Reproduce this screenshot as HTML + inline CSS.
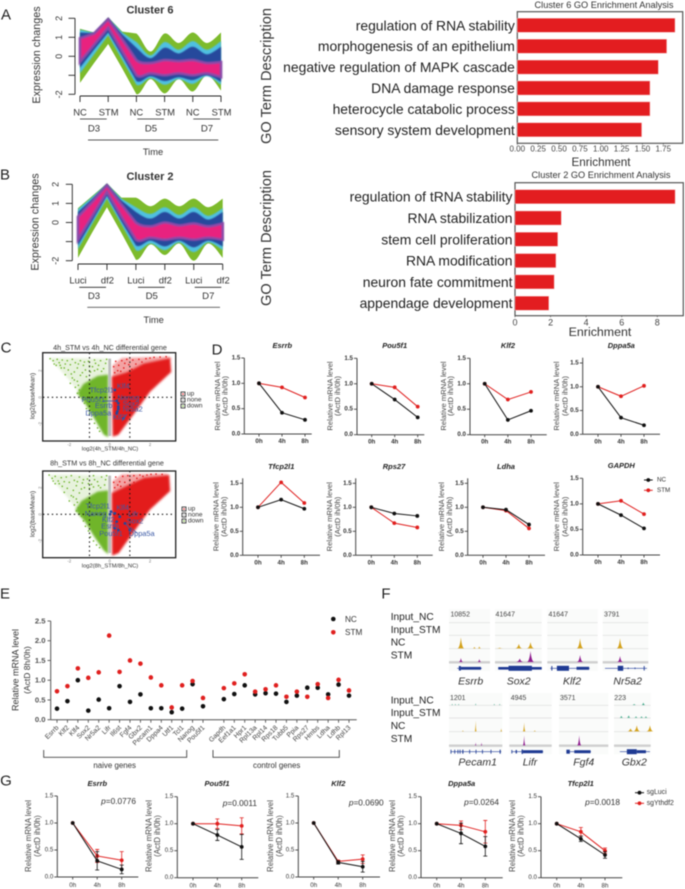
<!DOCTYPE html>
<html lang="en">
<head>
<meta charset="utf-8">
<title>Multi-panel figure</title>
<style>
html,body{margin:0;padding:0;background:#fff}
svg{display:block;filter:blur(.4px)}
text{font-family:"Liberation Sans",sans-serif;dominant-baseline:central;fill:#333}
.letter{font-size:15px;text-anchor:middle;fill:#222}
.rot{text-anchor:middle}
.m{text-anchor:middle}
.vg{font-size:7.4px;text-anchor:middle;fill:#3c5aa6}
.track{font-size:10.2px;fill:#222}
.gene{font-size:10.5px;font-style:italic;text-anchor:middle;fill:#333}
.num{font-size:7px;fill:#444}
.lt{font-size:7.5px;font-weight:bold;font-style:italic;text-anchor:middle;fill:#222}
.pv{font-size:8.3px;text-anchor:end;fill:#333}
</style>
</head>
<body>
<svg id="figure" width="685" height="889" viewBox="0 0 685 889">
<defs>
<filter id="soft"><feGaussianBlur stdDeviation="1.1"/></filter>
<filter id="softer"><feGaussianBlur stdDeviation=".55"/></filter>
</defs>
<rect x="0" y="0" width="685" height="889" fill="#fff"/>

<text class="letter" x="6" y="15">A</text>
<text class="letter" x="5" y="175">B</text>
<text class="letter" x="6" y="348">C</text>
<text class="letter" x="217" y="350">D</text>
<text class="letter" x="5" y="594">E</text>
<text class="letter" x="386" y="594">F</text>
<text class="letter" x="6" y="781">G</text>

<!-- Panel A left -->
<g id="ribbonA"></g>
<text class="m" x="150" y="10.5" font-size="11" font-weight="bold">Cluster 6</text>
<text class="rot" transform="rotate(-90 37 55)" x="37" y="55" font-size="10.8">Expression changes</text>
<g stroke="#222" stroke-width=".8">
<line x1="80" y1="119" x2="106.700" y2="119"/>
<line x1="137.300" y1="119" x2="164" y2="119"/>
<line x1="193.300" y1="119" x2="220" y2="119"/>
<line x1="88" y1="140" x2="218.300" y2="140"/>
</g>
<text class="m" x="94" y="129" font-size="9.6">D3</text>
<text class="m" x="151" y="129" font-size="9.6">D5</text>
<text class="m" x="207" y="129" font-size="9.6">D7</text>
<text class="m" x="153" y="152" font-size="9.3">Time</text>

<!-- Panel A right -->
<text class="rot" transform="rotate(-90 267 76)" x="267" y="76" font-size="14.6">GO Term Description</text>
<text class="m" x="604" y="5" font-size="9.2">Cluster 6 GO Enrichment Analysis</text>
<text class="m" x="601" y="162.500" font-size="11.7">Enrichment</text>
<g id="goA"></g>

<!-- Panel B left -->
<g id="ribbonB"></g>
<text class="m" x="150" y="177" font-size="11" font-weight="bold">Cluster 2</text>
<text class="rot" transform="rotate(-90 35.500 222)" x="35.500" y="222" font-size="10.8">Expression changes</text>
<g stroke="#222" stroke-width=".8">
<line x1="79.300" y1="287.300" x2="106" y2="287.300"/>
<line x1="138" y1="287.300" x2="164.700" y2="287.300"/>
<line x1="194.700" y1="287.300" x2="221.300" y2="287.300"/>
<line x1="87.300" y1="307.300" x2="220" y2="307.300" stroke="#555"/>
</g>
<text class="m" x="94" y="296.500" font-size="9.6">D3</text>
<text class="m" x="151.700" y="296.500" font-size="9.6">D5</text>
<text class="m" x="208.300" y="296.500" font-size="9.6">D7</text>
<text class="m" x="153.700" y="320" font-size="9.3">Time</text>

<!-- Panel B right -->
<text class="rot" transform="rotate(-90 267 238)" x="267" y="238" font-size="14.6">GO Term Description</text>
<text class="m" x="601" y="175" font-size="9.2">Cluster 2 GO Enrichment Analysis</text>
<text class="m" x="600" y="332" font-size="12.4">Enrichment</text>
<g id="goB"></g>

<!-- Panel C -->
<g id="volcano1"></g>
<g id="volcano2"></g>
<text class="m" x="110" y="347.700" font-size="7.2">4h_STM vs 4h_NC differential gene</text>
<text class="m" x="110" y="449.700" font-size="5.8">log2(4h_STM/4h_NC)</text>
<text class="rot" transform="rotate(-90 33 396)" x="33" y="396" font-size="6.4">log2(baseMean)</text>
<text class="m" x="107" y="463" font-size="7.2">8h_STM vs 8h_NC differential gene</text>
<text class="m" x="110" y="566.700" font-size="5.8">log2(8h_STM/8h_NC)</text>
<text class="rot" transform="rotate(-90 33 514)" x="33" y="514" font-size="6.4">log2(baseMean)</text>

<g stroke="#3c5aa6" stroke-width=".8">
<line x1="103" y1="401" x2="116" y2="401"/>
<line x1="113" y1="390" x2="115" y2="389"/>
<line x1="122" y1="421" x2="127" y2="414"/>
</g>
<text class="vg" x="101.700" y="390">Tfcp2l1</text>
<text class="vg" x="123.300" y="386">Klf4</text>
<text class="vg" x="93.300" y="399.300">Pou5f1</text>
<text class="vg" x="128.300" y="397.700">Nanog</text>
<text class="vg" x="103.700" y="405.300">Esrrb</text>
<text class="vg" x="131" y="403.300">Sox2</text>
<text class="vg" x="132.700" y="409">Nr5a2</text>
<text class="vg" x="98.300" y="413">Dppa5a</text>
<text class="vg" x="119.300" y="417">Klf2</text>

<g stroke="#3c5aa6" stroke-width=".8">
<line x1="111" y1="511" x2="114" y2="514"/>
<line x1="126" y1="524" x2="131" y2="531"/>
<line x1="130" y1="527" x2="137" y2="533"/>
</g>
<text class="vg" x="97.700" y="506">Tfcp2l1</text>
<text class="vg" x="122.700" y="507.700">Klf4</text>
<text class="vg" x="95.700" y="513.700">Nanog</text>
<text class="vg" x="133.300" y="514">Lifr</text>
<text class="vg" x="108.300" y="519.300">Klf2</text>
<text class="vg" x="110" y="526">Esrrb</text>
<text class="vg" x="135" y="521">Sox2</text>
<text class="vg" x="111" y="533.700">Pou5f1</text>
<text class="vg" x="141.700" y="533.700">Dppa5a</text>

<g>
<rect x="181" y="392" width="4" height="4" fill="#fff" stroke="#222" stroke-width=".8"/><circle cx="183" cy="394" r=".8" fill="#e31a1c"/>
<rect x="181" y="398" width="4" height="4" fill="#fff" stroke="#222" stroke-width=".8"/><circle cx="183" cy="400" r=".8" fill="#aaa"/>
<rect x="181" y="404" width="4" height="4" fill="#fff" stroke="#222" stroke-width=".8"/><circle cx="183" cy="406" r=".8" fill="#6fb52c"/>
<text x="187" y="394" font-size="6.500">up</text>
<text x="187" y="400" font-size="6.500">none</text>
<text x="187" y="406" font-size="6.500">down</text>
</g>
<g>
<rect x="182" y="507" width="4" height="4" fill="#fff" stroke="#222" stroke-width=".8"/><circle cx="184" cy="509" r=".8" fill="#e31a1c"/>
<rect x="182" y="513" width="4" height="4" fill="#fff" stroke="#222" stroke-width=".8"/><circle cx="184" cy="515" r=".8" fill="#aaa"/>
<rect x="182" y="519" width="4" height="4" fill="#fff" stroke="#222" stroke-width=".8"/><circle cx="184" cy="521" r=".8" fill="#6fb52c"/>
<text x="188" y="509" font-size="6.500">up</text>
<text x="188" y="515" font-size="6.500">none</text>
<text x="188" y="521" font-size="6.500">down</text>
</g>

<!-- Panel D -->
<g id="panelD"></g>
<text class="lt" x="282.300" y="345.700">Esrrb</text>
<text class="lt" x="394.700" y="345.700">Pou5f1</text>
<text class="lt" x="508" y="345.700">Klf2</text>
<text class="lt" x="621.300" y="345.700">Dppa5a</text>
<text class="lt" x="281.300" y="466.300">Tfcp2l1</text>
<text class="lt" x="394" y="466.300">Rps27</text>
<text class="lt" x="506" y="466.300">Ldha</text>
<text class="lt" x="621.300" y="465.700">GAPDH</text>
<g>
<line x1="644" y1="480" x2="652.700" y2="480" stroke="#111" stroke-width="1"/>
<circle cx="648.300" cy="480" r="1.900" fill="#111"/>
<text x="657" y="480" font-size="6.300">NC</text>
<line x1="644" y1="490.300" x2="652.700" y2="490.300" stroke="#e0201f" stroke-width="1"/>
<circle cx="648.300" cy="490.300" r="1.900" fill="#e0201f"/>
<text x="657" y="490.300" font-size="6.300">STM</text>
</g>

<!-- Panel E -->
<g id="panelE"></g>
<text class="rot" transform="rotate(-90 15.700 670)" x="15.700" y="670" font-size="9" fill="#444">Relative mRNA level</text>
<text class="rot" transform="rotate(-90 27 670)" x="27" y="670" font-size="8.500" fill="#444">(ActD 8h/0h)</text>
<g>
<circle cx="333.300" cy="619" r="2.300" fill="#111"/>
<text x="345" y="619.300" font-size="8.200">NC</text>
<circle cx="333.300" cy="632.300" r="2.300" fill="#e0201f"/>
<text x="345" y="632.700" font-size="8.200">STM</text>
</g>
<path d="M43.700 750V757.300H186.700V750" fill="none" stroke="#444" stroke-width=".9"/>
<path d="M213 750V757.300H339.300V750" fill="none" stroke="#444" stroke-width=".9"/>
<text class="m" x="114.700" y="765.700" font-size="7.900">naive genes</text>
<text class="m" x="276.700" y="765.700" font-size="7.900">control genes</text>

<!-- Panel F -->
<g id="panelF"></g>
<text class="track" x="390.700" y="617.700">Input_NC</text>
<text class="track" x="390.700" y="630.300">Input_STM</text>
<text class="track" x="390.700" y="643">NC</text>
<text class="track" x="390.700" y="656">STM</text>
<text class="track" x="390.700" y="701">Input_NC</text>
<text class="track" x="390.700" y="713.700">Input_STM</text>
<text class="track" x="390.700" y="726.700">NC</text>
<text class="track" x="390.700" y="739.700">STM</text>
<text class="gene" x="470.700" y="681.700">Esrrb</text>
<text class="gene" x="518.700" y="681.700">Sox2</text>
<text class="gene" x="572" y="681.700">Klf2</text>
<text class="gene" x="627.700" y="681.700">Nr5a2</text>
<text class="gene" x="477.700" y="762.300">Pecam1</text>
<text class="gene" x="530" y="762.300">Lifr</text>
<text class="gene" x="583.700" y="762.300">Fgf4</text>
<text class="gene" x="634.300" y="762.300">Gbx2</text>
<text class="num" x="450.500" y="615">10852</text>
<text class="num" x="495.500" y="615">41647</text>
<text class="num" x="548.500" y="615">41647</text>
<text class="num" x="604" y="615">3791</text>
<text class="num" x="450" y="698.300">1201</text>
<text class="num" x="510.700" y="698.300">4945</text>
<text class="num" x="560" y="698.300">3571</text>
<text class="num" x="614.300" y="698.300">223</text>

<!-- Panel G -->
<g id="panelG"></g>
<text class="lt" x="97.300" y="783.300">Esrrb</text>
<text class="lt" x="217" y="783.700">Pou5f1</text>
<text class="lt" x="338.300" y="783.300">Klf2</text>
<text class="lt" x="461.700" y="783.700">Dppa5a</text>
<text class="lt" x="580.700" y="783.700">Tfcp2l1</text>
<text class="pv" x="136" y="801"><tspan font-style="italic">p</tspan>=0.0776</text>
<text class="pv" x="257" y="803"><tspan font-style="italic">p</tspan>=0.0011</text>
<text class="pv" x="383.700" y="802.700"><tspan font-style="italic">p</tspan>=0.0690</text>
<text class="pv" x="499" y="802"><tspan font-style="italic">p</tspan>=0.0264</text>
<text class="pv" x="620" y="802"><tspan font-style="italic">p</tspan>=0.0018</text>
<g>
<line x1="635" y1="792.700" x2="644" y2="792.700" stroke="#111" stroke-width="1"/>
<circle cx="639.500" cy="792.700" r="1.900" fill="#111"/>
<text x="646.700" y="792.700" font-size="6.900">sgLuci</text>
<line x1="635" y1="803.300" x2="644" y2="803.300" stroke="#e0201f" stroke-width="1"/>
<circle cx="639.500" cy="803.300" r="1.900" fill="#e0201f"/>
<text x="646.700" y="803.300" font-size="6.900">sgYthdf2</text>
</g>
</svg>

<script>
/* ---------- DATA: ribbons (expression level edges at each time index) ---------- */
const ribbonIndex = [0, .5, 1, 1.5, 2, 2.5, 3, 3.5, 4, 4.5, 5];
const ribbonTickValues = [2, 1, 0, -1, -2];
const ribbonTickLabels = ['2', '1', '0', '', '-2'];
const ribbonAConditions = ['NC', 'STM', 'NC', 'STM', 'NC', 'STM'];
const ribbonBConditions = ['Luci', 'df2', 'Luci', 'df2', 'Luci', 'df2'];

const c6GreenTop = [1.45, 1.25, 2.05, 1.3, 1.2, .25, 1.2, .7, 1.25, .7, 1.25];
const c6CyanTop = [1.4, 1.24, 2.03, 1.25, .75, .05, .75, .35, .8, .35, .8];
const c6BlueTop = [1.25, 1.22, 2.0, 1.15, .45, -.1, .45, .15, .5, .1, .5];
const c6PinkTop = [.95, 1.2, 1.95, .9, -.2, -.35, -.2, -.25, -.2, -.35, -.3];
const c6PinkBottom = [-.3, .6, 1.5, .25, -1, -.9, -1, -.9, -1, -.9, -1.1];
const c6BlueBottom = [-.6, .35, 1.25, 0, -1.3, -1.05, -1.3, -1.1, -1.25, -1, -1.35];
const c6CyanBottom = [-.9, .1, 1.1, -.2, -1.5, -1.15, -1.5, -1.2, -1.45, -1.05, -1.5];
const c6GreenBottom = [-1.4, -.35, .65, -.65, -2, -1.2, -1.95, -1.2, -1.85, -1, -1.8];

const c2GreenTop = [.75, 1.4, 2.05, 1.3, 1.3, .85, 1.25, .85, 1.25, .8, 1.25];
const c2CyanTop = [.7, 1.35, 2.03, 1.25, .8, .45, .8, .4, .8, .35, .75];
const c2BlueTop = [.55, 1.25, 2.0, 1.15, .55, .2, .55, .2, .55, .15, .55];
const c2PinkTop = [.3, 1.1, 1.95, .95, 0, -.2, 0, -.15, -.05, -.2, -.05];
const c2PinkBottom = [-.9, .35, 1.6, .3, -.9, -.8, -.9, -.8, -.9, -.8, -.9];
const c2BlueBottom = [-1.2, .1, 1.4, .05, -1.2, -.95, -1.25, -.95, -1.3, -.95, -1.25];
const c2CyanBottom = [-1.4, -.05, 1.25, -.1, -1.45, -1.1, -1.45, -1.05, -1.55, -1.05, -1.45];
const c2GreenBottom = [-1.85, -.5, .8, -.55, -1.95, -1.15, -1.7, -1.1, -2, -1.1, -1.85];

/* ---------- DATA: GO bars ---------- */
const go6Terms = ['regulation of RNA stability', 'morphogenesis of an epithelium', 'negative regulation of MAPK cascade', 'DNA damage response', 'heterocycle catabolic process', 'sensory system development'];
const go6Enrichment = [1.89, 1.79, 1.69, 1.59, 1.59, 1.49];
const go6Ticks = [0, .25, .5, .75, 1, 1.25, 1.5, 1.75];
const go6TickLabels = ['0.00', '0.25', '0.50', '0.75', '1.00', '1.25', '1.50', '1.75'];
const go2Terms = ['regulation of tRNA stability', 'RNA stabilization', 'stem cell proliferation', 'RNA modification', 'neuron fate commitment', 'appendage development'];
const go2Enrichment = [9.0, 2.6, 2.4, 2.3, 2.2, 1.9];
const go2Ticks = [0, 2, 4, 6, 8];
const go2TickLabels = ['0', '2', '4', '6', '8'];

/* ---------- DATA: volcano plots (log2 fold change, log2 base mean) ---------- */
const volcanoTicks = [-2, 0, 2];
const v4RedDense = [[.1,1.55],[.85,1.9],[1.67,2.55],[3.0,2.95],[3.05,1.9],[2.0,.42],[1.17,-1.32],[.43,-2.82],[.15,-2.95]];
const v4RedHalo = [[.15,2.4],[.6,2.95],[2.9,3.05],[3.1,2.9],[1.67,2.5],[.85,1.85],[.15,1.5]];
const v4GreenDense = [[-.07,1.7],[-.6,1.6],[-1.3,1.0],[-1.6,.3],[-1.2,-.5],[-.8,-1.5],[-.3,-2.8],[-.07,-3.0]];
const v4GreenHalo = [[-3,2.95],[-2.2,2.95],[-.1,2.9],[-.07,1.5],[-1.5,.3],[-2,1.3]];
const v4GreenSparse = [[-2.95,2.9],[-2.8,2.75],[-2.6,2.85],[-2.5,2.6],[-2.35,2.8],[-2.2,2.5],[-2.65,2.4],[-2.1,2.75],[-1.95,2.45],[-2.4,2.2],[-1.85,2.85],[-1.7,2.6],[-2.05,2.05],[-1.6,2.2],[-1.45,2.75],[-1.3,2.4],[-1.75,1.9],[-1.2,2.05],[-1.05,2.7],[-.85,2.3],[-.75,2.8],[-1.45,1.65],[-.95,1.9],[-.55,2.4],[-.45,2.75],[-.3,2.15],[-1.85,1.45],[-1.6,1.2],[-1.95,1.05],[-1.7,.75],[-1.5,.55],[-1.45,.1],[-1.6,.3],[-1.25,-.45],[-1.35,-.1],[-1.15,-.85],[-1.0,-1.2],[-.9,-1.65],[-.75,-1.95],[-.6,-2.3],[-.5,-2.55],[-.95,-.95],[-2.2,1.7],[-1.15,1.55],[-2.75,2.5],[-2.45,2.4],[-2.25,2.2],[-1.55,2.5],[-1.25,2.65],[-1.0,2.35],[-.7,2.55],[-.6,2.1],[-.2,2.55],[-.15,2.85],[-.4,1.95],[-.75,2.0],[-1.35,1.85],[-1.9,1.75],[-1.75,1.3],[-1.55,.9]];
const v4RedSparse = [[.3,2.7],[.45,2.4],[.6,2.75],[.7,2.2],[.85,2.85],[.95,2.45],[1.1,2.1],[1.15,2.8],[1.3,2.5],[.4,2.0],[.25,1.85],[.55,1.95],[1.45,2.85],[1.6,2.65],[.2,2.3],[1.8,2.9],[2.0,2.95],[2.2,3.0],[2.5,3.02],[2.8,3.05],[1.0,2.0],[.75,2.55]];
const v4GeneFC = [.26, .35, .43, .43, .43, .38, .35, .68];
const v4GeneMean = [.55, -.27, -.45, -.7, -.87, -1.07, -1.2, -1.57];
const v8RedDense = [[.1,1.6],[.9,2.2],[1.7,2.75],[2.95,2.95],[3.0,1.75],[2.0,.35],[1.2,-1.3],[.45,-2.9],[.12,-3.1]];
const v8RedHalo = [[.15,2.5],[.6,3.0],[2.8,3.05],[2.95,2.9],[1.7,2.7],[.9,2.15],[.15,1.55]];
const v8GreenDense = [[-.07,1.8],[-.6,1.7],[-1.4,1.0],[-1.7,.3],[-1.2,-.6],[-.8,-1.6],[-.3,-2.7],[-.07,-3.0]];
const v8GreenHalo = [[-3.05,2.95],[-2.2,3.0],[-.1,2.9],[-.07,1.6],[-1.6,.3],[-2.1,1.3]];
const v8GreenSparse = [[-3.0,2.95],[-2.85,2.7],[-2.7,2.85],[-2.55,2.5],[-2.4,2.75],[-2.25,2.45],[-2.7,2.3],[-2.15,2.8],[-2.0,2.4],[-2.35,2.1],[-1.9,2.9],[-1.75,2.55],[-2.1,1.95],[-1.65,2.15],[-1.5,2.8],[-1.35,2.35],[-1.8,1.8],[-1.25,2.0],[-1.1,2.65],[-.9,2.25],[-.8,2.9],[-1.5,1.6],[-1.0,1.95],[-.6,2.45],[-.4,2.8],[-.25,2.2],[-1.9,1.4],[-1.65,1.15],[-2.0,1.0],[-1.75,.7],[-1.55,.5],[-1.5,.05],[-1.65,.25],[-1.3,-.5],[-1.4,-.15],[-1.2,-.9],[-1.05,-1.25],[-.95,-1.7],[-.8,-2.0],[-.65,-2.3],[-.5,-2.5],[-2.25,1.65],[-2.8,2.5],[-2.5,2.3],[-1.6,2.45],[-1.3,2.6],[-1.05,2.3],[-.75,2.6],[-.55,2.15],[-.2,2.6],[-.15,2.9],[-.45,2.0],[-.8,2.05],[-1.4,1.9],[-1.8,1.3],[-1.6,.9]];
const v8RedSparse = [[.3,2.8],[.5,2.45],[.65,2.85],[.75,2.4],[.9,2.9],[1.0,2.6],[1.2,2.4],[1.2,2.9],[1.35,2.7],[.4,2.2],[.25,2.0],[.55,2.1],[1.5,2.95],[1.65,2.85],[.2,2.4],[1.85,2.95],[2.05,3.0],[2.3,3.02],[2.6,3.0]];
const v8GeneFC = [.07, .26, .02, .5, .35, .26, .43, .76, 1.0];
const v8GeneMean = [.2, .07, 0, -.18, -.55, -1.05, -1.18, -.68, -1.18];

/* ---------- DATA: panel D / G time courses ---------- */
const timeLabels = ['0h', '4h', '8h'];
const decayTicks = [0, .5, 1, 1.5];
const decayTickLabels = ['0.0', '0.5', '1.0', '1.5'];

const dEsrrbNC = [1, .42, .28];
const dEsrrbSTM = [1, .92, .72];
const dPou5f1NC = [1, .69, .34];
const dPou5f1STM = [1, .93, .55];
const dKlf2NC = [1, .29, .47];
const dKlf2STM = [1, .69, .84];
const dDppa5aNC = [1, .35, .19];
const dDppa5aSTM = [1, .8, 1.02];
const dTfcp2l1NC = [1, 1.16, .97];
const dTfcp2l1STM = [1, 1.52, 1.09];
const dRps27NC = [1, .87, .82];
const dRps27STM = [1, .67, .58];
const dLdhaNC = [1, .95, .64];
const dLdhaSTM = [1, .93, .56];
const dGapdhNC = [1, .78, .52];
const dGapdhSTM = [1, 1.06, .8];

const gEsrrbLuci = [1, .3, .14];
const gEsrrbLuciErr = [0, .17, .08];
const gEsrrbYthdf2 = [1, .39, .31];
const gEsrrbYthdf2Err = [0, .12, .16];
const gPou5f1Luci = [1, .79, .57];
const gPou5f1LuciErr = [0, .1, .23];
const gPou5f1Ythdf2 = [1, 1.0, .96];
const gPou5f1Ythdf2Err = [0, .09, .15];
const gKlf2Luci = [1, .27, .19];
const gKlf2LuciErr = [0, .03, .1];
const gKlf2Ythdf2 = [1, .29, .33];
const gKlf2Ythdf2Err = [0, .02, .08];
const gDppa5aLuci = [1, .82, .58];
const gDppa5aLuciErr = [0, .19, .18];
const gDppa5aYthdf2 = [1, .97, .85];
const gDppa5aYthdf2Err = [0, .08, .21];
const gTfcp2l1Luci = [1, .72, .42];
const gTfcp2l1LuciErr = [0, .05, .06];
const gTfcp2l1Ythdf2 = [1, .85, .5];
const gTfcp2l1Ythdf2Err = [0, .08, .05];

/* ---------- DATA: panel E ---------- */
const naiveGenes = ['Esrrb', 'Klf2', 'Klf4', 'Sox2', 'Nr5a2', 'Lifr', 'Il6st', 'Fgf4', 'Gbx2', 'Pecam1', 'Dppa4', 'Utf1', 'Tcl1', 'Nanog', 'Pou5f1'];
const naiveNC = [.28, .47, 1.0, .23, .51, .29, .85, .45, .64, .29, .29, .19, .28, .9, .34];
const naiveSTM = [.72, .85, 1.3, 1.06, 1.2, 2.13, 1.21, 1.5, 1.42, 1.07, .87, .31, .87, .98, .55];
const controlGenes = ['Gapdh', 'Eef1a1', 'Hpr1', 'Rpl13a', 'Rpl14', 'Rps18', 'Tubb5', 'Ppia', 'Rps27', 'Hmbs', 'Ldha', 'Ldhb', 'Rpl13'];
const controlNC = [.52, .65, .87, .64, .67, .66, .45, .61, .81, .81, .64, .89, .61];
const controlSTM = [.8, .92, 1.15, .71, .77, .87, .58, .71, .58, .9, .55, 1.01, .74];
const scatterTicks = [0, .5, 1, 1.5, 2, 2.5];
const scatterTickLabels = ['0.0', '0.5', '1.0', '1.5', '2.0', '2.5'];

/* ---------- DATA: panel F peaks (relative locus position, signal height) ---------- */
const esrrbNcLoci = [.29, .62, .74];
const esrrbNcSignal = [11, 1.5, 2];
const esrrbStmLoci = [.29, .74];
const esrrbStmSignal = [4, 3];
const sox2NcLoci = [.1, .51, .76];
const sox2NcSignal = [.7, 4.5, 6.3];
const sox2StmLoci = [.53, .76];
const sox2StmSignal = [3.5, 11];
const klf2NcLoci = [.65];
const klf2NcSignal = [10];
const klf2StmLoci = [.65];
const klf2StmSignal = [7];
const nr5a2NcLoci = [.38];
const nr5a2NcSignal = [10];
const nr5a2StmLoci = [.38];
const nr5a2StmSignal = [6];
const pecam1InputLoci = [.06, .12, .18, .5, .85, .95];
const pecam1InputSignal = [1.3, 1.3, 1.3, 1.8, 1.3, 1.3];
const pecam1NcLoci = [.26, .5, .98];
const pecam1NcSignal = [1, 11, 3];
const pecam1StmLoci = [.5, .61];
const pecam1StmSignal = [3, 3];
const lifrNcLoci = [.35, .6];
const lifrNcSignal = [9, 1];
const lifrStmLoci = [.35];
const lifrStmSignal = [10];
const fgf4StmLoci = [.41];
const fgf4StmSignal = [10];
const gbx2InputNcLoci = [.55, .8];
const gbx2InputNcSignal = [1, 2.500];
const gbx2InputStmLoci = [.2, .4, .6, .75, .87];
const gbx2InputStmSignal = [2, 2.500, 1.5, 1.5, 1.5];
const gbx2NcLoci = [.45, .62, .98];
const gbx2NcSignal = [3, 6, 6];

/* ---------- HELPERS ---------- */
const figure = document.getElementById('figure');
function make(parent, tag, attrs) {
  const node = document.createElementNS(figure.namespaceURI, tag);
  Object.keys(attrs).forEach(function (k) { node.setAttribute(k, attrs[k]); });
  parent.appendChild(node);
  return node;
}
function linear(d0, d1, r0, r1) {
  return function (v) { return r0 + (v - d0) * (r1 - r0) / (d1 - d0); };
}
function label(parent, name, str, x, y, size, opts) {
  const o = opts || {};
  const t = make(parent, 'text', { x: x, y: y, 'font-size': size, 'text-anchor': o.anchor || 'middle' });
  if (o.weight) t.setAttribute('font-weight', o.weight);
  if (o.fill) t.style.fill = o.fill;
  if (o.rot) t.setAttribute('transform', 'rotate(' + o.rot + ' ' + x + ' ' + y + ')');
  
  
  t.textContent = str;
  return t;
}
function rule(parent, name, x1, y1, x2, y2, color, width) {
  const l = make(parent, 'line', { x1: x1, y1: y1, x2: x2, y2: y2, stroke: color, 'stroke-width': width });
  
  
  return l;
}

/* ---------- RIBBON ---------- */
function edgePath(points, smoothFrom, smoothTo) {
  let d = '';
  for (let i = 0; i < points.length - 1; i++) {
    const a = points[i], b = points[i + 1];
    if (i >= smoothFrom && i < smoothTo) {
      const p0 = points[i - 1] || a, p3 = points[i + 2] || b;
      d += 'C' + (a[0] + (b[0] - p0[0]) / 6) + ' ' + (a[1] + (b[1] - p0[1]) / 6) + ' ' +
        (b[0] - (p3[0] - a[0]) / 6) + ' ' + (b[1] - (p3[1] - a[1]) / 6) + ' ' + b[0] + ' ' + b[1];
    } else {
      d += 'L' + b[0] + ' ' + b[1];
    }
  }
  return d;
}
function drawRibbon(g, levels, cfg, conditions) {
  const X = linear(0, 5, cfg.x0, cfg.x5);
  const Y = linear(-2, 2, cfg.yMinus2, cfg.y2);
  const colors = ['#7dbb2c', '#4fc0e0', '#26489c', '#e8207f'];
  const names = ['green-band', 'cyan-band', 'blue-band', 'pink-band'];
  colors.forEach(function (color, i) {
    const top = ribbonIndex.map(function (t, k) { return [X(t), Y(levels[i][k])]; });
    const bot = ribbonIndex.map(function (t, k) { return [X(t), Y(levels[7 - i][k])]; }).reverse();
    const d = 'M' + top[0][0] + ' ' + top[0][1] + edgePath(top, 4, 99) +
      'L' + bot[0][0] + ' ' + bot[0][1] + edgePath(bot, 0, 6) + 'Z';
    const band = make(g, 'path', { d: d, fill: color });
    if (i === 3) { band.setAttribute('stroke', '#8a4aa8'); band.setAttribute('stroke-width', '2.6'); }
    if (i > 0) band.setAttribute('filter', 'url(#softer)');
    
    
  });
  rule(g, 'y-axis-line', cfg.axisX, Y(2), cfg.axisX, Y(-2), '#222', .9);
  ribbonTickValues.forEach(function (v, i) {
    rule(g, 'y-tick', cfg.axisX - 6.5, Y(v), cfg.axisX, Y(v), '#222', .9);
    if (ribbonTickLabels[i]) label(g, 'y-tick-label', ribbonTickLabels[i], cfg.labelX, Y(v), 9, { rot: -90 });
  });
  rule(g, 'x-axis-line', X(0), cfg.axisY, X(5), cfg.axisY, '#222', .9);
  conditions.forEach(function (c, i) {
    rule(g, 'x-tick', X(i), cfg.axisY, X(i), cfg.axisY + 6, '#222', .9);
    label(g, 'x-tick-label', c, X(i) + (i % 2 ? .5 : 0), cfg.tickLabelY, 9.4);
  });
}

/* ---------- GO BARS ---------- */
function drawGo(g, terms, values, ticks, tickLabels, cfg) {
  const X = linear(0, cfg.refValue, cfg.x0, cfg.refPixel);
  const frame = make(g, 'rect', { x: cfg.x0, y: cfg.top, width: cfg.right - cfg.x0, height: cfg.bottom - cfg.top, fill: '#fff', stroke: '#555', 'stroke-width': 1.2 });
  
  
  terms.forEach(function (term, i) {
    const cy = cfg.firstY + i * cfg.stepY;
    const bar = make(g, 'rect', { x: X(0), y: cy - cfg.barH / 2, width: X(values[i]) - X(0), height: cfg.barH, fill: '#e31d20', stroke: '#f4b6b6', 'stroke-width': .5 });
    
    
    label(g, 'go-term-label', term, cfg.x0 - 2.5, cy, cfg.termSize, { anchor: 'end', fill: '#222' });
  });
  ticks.forEach(function (t, i) {
    rule(g, 'x-tick', X(t), cfg.bottom, X(t), cfg.bottom + 1.5, '#555', .7);
    label(g, 'x-tick-label', tickLabels[i], X(t), cfg.tickY, cfg.tickSize, { fill: '#444' });
  });
}

/* ---------- VOLCANO ---------- */
function drawVolcano(g, cfg, d) {
  const X = linear(-2, 2, 69.3, 150);
  const Y = linear(-2, 2, cfg.y0 + 26.65, cfg.y0 - 26.65);
  const poly = function (pts) { return pts.map(function (p) { return X(p[0]) + ',' + Y(p[1]); }).join(' '); };
  const halo1 = make(g, 'polygon', { points: poly(d.greenHalo), fill: '#6fb52c', opacity: .16, filter: 'url(#soft)' });
  
  
  const halo2 = make(g, 'polygon', { points: poly(d.redHalo), fill: '#e31a1c', opacity: .4, filter: 'url(#soft)' });
  
  
  const dense1 = make(g, 'polygon', { points: poly(d.greenDense), fill: '#6fb52c', filter: 'url(#soft)' });
  
  
  const dense2 = make(g, 'polygon', { points: poly(d.redDense), fill: '#e31a1c', filter: 'url(#soft)' });
  
  
  d.greenSparse.forEach(function (p) {
    const c = make(g, 'circle', { cx: X(p[0]), cy: Y(p[1]), r: .8, fill: '#6fb52c' });
    
    
  });
  d.redSparse.forEach(function (p) {
    const c = make(g, 'circle', { cx: X(p[0]), cy: Y(p[1]), r: .8, fill: '#e31a1c' });
    
    
  });
  const strip = make(g, 'rect', { x: X(-.07), y: Y(2.9), width: X(.07) - X(-.07), height: Y(-2.9) - Y(2.9), fill: '#bdbdbd' });
  
  
  const h = rule(g, 'zero-baseline-dotted', 43, Y(0), 175, Y(0), '#111', 1.1);
  h.setAttribute('stroke-dasharray', '1.400 3');
  [-1, 1].forEach(function (v) {
    const l = rule(g, 'fold-change-threshold-dotted', X(v), cfg.top, X(v), cfg.bottom, '#111', 1.1);
    l.setAttribute('stroke-dasharray', '1.400 3');
  });
  d.geneFC.forEach(function (fc, i) {
    const c = make(g, 'circle', { cx: X(fc), cy: Y(d.geneMean[i]), r: 1.4, fill: '#24479a' });
    
    
  });
  const frame = make(g, 'rect', { x: 42.7, y: cfg.top, width: 133, height: cfg.bottom - cfg.top, fill: 'none', stroke: '#222', 'stroke-width': 1.300 });
  
  
  volcanoTicks.forEach(function (t) {
    label(g, 'x-tick-label', String(t), X(t), cfg.bottom + 3.500, 4.2, { fill: '#777' });
    label(g, 'y-tick-label', String(t), 40, Y(t), 4.2, { fill: '#777', rot: -90 });
  });
}

/* ---------- TIME COURSES ---------- */
function drawDecay(g, cfg, series) {
  const X = linear(0, 2, cfg.x0, cfg.x2);
  const Y = linear(0, 1.5, cfg.y0, cfg.y15);
  const axisColor = '#444';
  rule(g, 'y-axis-line', cfg.axisX, cfg.y0, cfg.axisX, cfg.yTop, axisColor, 1);
  rule(g, 'x-axis-line', cfg.axisX, cfg.y0, cfg.axisEnd, cfg.y0, axisColor, 1);
  decayTicks.forEach(function (t, i) {
    rule(g, 'y-tick', cfg.axisX - 3, Y(t), cfg.axisX, Y(t), axisColor, .9);
    label(g, 'y-tick-label', decayTickLabels[i], cfg.axisX - 4, Y(t), cfg.tickSize, { anchor: 'end', weight: cfg.tickWeight, fill: '#333' });
  });
  timeLabels.forEach(function (t, i) {
    rule(g, 'x-tick', X(i), cfg.y0, X(i), cfg.y0 + 2.5, axisColor, .9);
    label(g, 'x-tick-label', t, X(i), cfg.y0 + cfg.tickGap, cfg.tickSize, { weight: cfg.tickWeight, fill: '#333' });
  });
  label(g, 'y-axis-title-line-1', 'Relative mRNA level', cfg.lab1, cfg.labY, cfg.labSize, { rot: -90, fill: '#444' });
  label(g, 'y-axis-title-line-2', '(ActD ih/0h)', cfg.lab2, cfg.labY, cfg.labSize, { rot: -90, fill: '#444' });
  series.forEach(function (s) {
    const pts = s.values.map(function (v, i) { return X(i) + ',' + Y(v); }).join(' ');
    const line = make(g, 'polyline', { points: pts, fill: 'none', stroke: s.color, 'stroke-width': 1 });
    
    
    s.values.forEach(function (v, i) {
      if (s.errors && s.errors[i] > 0) {
        const e = s.errors[i];
        const bar = make(g, 'path', {
          d: 'M' + X(i) + ' ' + Y(v - e) + 'V' + Y(v + e) + 'M' + (X(i) - 2) + ' ' + Y(v - e) + 'H' + (X(i) + 2) + 'M' + (X(i) - 2) + ' ' + Y(v + e) + 'H' + (X(i) + 2),
          stroke: s.color, 'stroke-width': .8, fill: 'none'
        });
        
        
      }
      const dot = make(g, 'circle', { cx: X(i), cy: Y(v), r: 1.9, fill: s.color });
      
      
    });
  });
}

/* ---------- PANEL E ---------- */
function drawScatter(g) {
  const Xpos = linear(0, 28, 57, 349);
  const Y = linear(0, 2.5, 719.7, 621);
  rule(g, 'y-axis-line', 50.7, 621, 50.7, 719.7, '#555', 1);
  rule(g, 'x-axis-line', 50.7, 719.7, 356.7, 719.7, '#555', 1);
  scatterTicks.forEach(function (t, i) {
    rule(g, 'y-tick', 47.5, Y(t), 50.7, Y(t), '#555', .9);
    label(g, 'y-tick-label', scatterTickLabels[i], 45.5, Y(t), 7.7, { anchor: 'end', weight: 'bold', fill: '#555' });
  });
  function group(genes, nc, stm, offset) {
    genes.forEach(function (gene, i) {
      const x = Xpos(i + offset);
      rule(g, 'x-tick', x, 719.7, x, 722.7, '#555', .9);
      label(g, 'gene-tick-label', gene, x + 1, 727, 6.8, { anchor: 'end', rot: -45, fill: '#444' });
      const a = make(g, 'circle', { cx: x, cy: Y(nc[i]), r: 2.300, fill: '#111' });
      
      
      const b = make(g, 'circle', { cx: x, cy: Y(stm[i]), r: 2.300, fill: '#e0201f' });
      
      
    });
  }
  group(naiveGenes, naiveNC, naiveSTM, 0);
  group(controlGenes, controlNC, controlSTM, 16);
}

/* ---------- PANEL F ---------- */
function drawLocus(g, box, top, bottom, rows, tracks, gene, geneY) {
  const X = linear(0, 1, box[0], box[1]);
  const bg = make(g, 'rect', { x: box[0], y: top, width: box[1] - box[0], height: bottom - top, fill: '#fafbfa' });
  
  
  rows.forEach(function (y, i) {
    rule(g, 'track-baseline', box[0], y, box[1], y, i === 3 ? '#cfcfcf' : '#dcdcdc', i === 3 ? 2.400 : .7);
  });
  tracks.forEach(function (t) {
    const base = rows[t.row] - .3;
    t.loci.forEach(function (p, i) {
      const px = X(p), h = t.signal[i], w = t.width || Math.min(3.6, 1.2 + h * .28);
      const peak = make(g, 'path', {
        d: 'M' + (px - w) + ' ' + base + 'Q' + (px - w * .3) + ' ' + base + ' ' + px + ' ' + (base - h) + 'Q' + (px + w * .3) + ' ' + base + ' ' + (px + w) + ' ' + base + 'Z',
        fill: t.color
      });
      
      
    });
  });
  rule(g, 'gene-model-line', X(gene.from), geneY, X(gene.to), geneY, '#2a45a0', .7);
  gene.exons.forEach(function (ex) {
    const r = make(g, 'rect', { x: X(ex[0]), y: geneY - ex[2] / 2, width: Math.max(.8, X(ex[1]) - X(ex[0])), height: ex[2], fill: '#1f3a93' });
    
    
  });
}

/* ---------- DRAW ---------- */
drawRibbon(document.getElementById('ribbonA'),
  [c6GreenTop, c6CyanTop, c6BlueTop, c6PinkTop, c6PinkBottom, c6BlueBottom, c6CyanBottom, c6GreenBottom],
  { x0: 80, x5: 221, y2: 18.3, yMinus2: 94.3, axisX: 75, axisY: 96, labelX: 59, tickLabelY: 112 }, ribbonAConditions);
drawRibbon(document.getElementById('ribbonB'),
  [c2GreenTop, c2CyanTop, c2BlueTop, c2PinkTop, c2PinkBottom, c2BlueBottom, c2CyanBottom, c2GreenBottom],
  { x0: 78, x5: 222.7, y2: 184.3, yMinus2: 260.7, axisX: 72.3, axisY: 264, labelX: 55.7, tickLabelY: 280 }, ribbonBConditions);

drawGo(document.getElementById('goA'), go6Terms, go6Enrichment, go6Ticks, go6TickLabels,
  { x0: 517.3, refValue: 1.75, refPixel: 663.3, right: 682.7, top: 11.7, bottom: 143.3, firstY: 25.3, stepY: 20.9, barH: 14, termSize: 13.9, tickY: 149, tickSize: 8 });
drawGo(document.getElementById('goB'), go2Terms, go2Enrichment, go2Ticks, go2TickLabels,
  { x0: 515, refValue: 8, refPixel: 657.3, right: 683.3, top: 182.7, bottom: 315.7, firstY: 196.7, stepY: 21.3, barH: 14, termSize: 13.9, tickY: 322.3, tickSize: 9 });

drawVolcano(document.getElementById('volcano1'), { y0: 397.3, top: 352.7, bottom: 441 },
  { greenHalo: v4GreenHalo, redHalo: v4RedHalo, greenDense: v4GreenDense, redDense: v4RedDense, greenSparse: v4GreenSparse, redSparse: v4RedSparse, geneFC: v4GeneFC, geneMean: v4GeneMean });
drawVolcano(document.getElementById('volcano2'), { y0: 514.3, top: 471, bottom: 557.7 },
  { greenHalo: v8GreenHalo, redHalo: v8RedHalo, greenDense: v8GreenDense, redDense: v8RedDense, greenSparse: v8GreenSparse, redSparse: v8RedSparse, geneFC: v8GeneFC, geneMean: v8GeneMean });

const panelD = document.getElementById('panelD');
function dStyle(o) {
  o.tickSize = 6.2; o.tickWeight = 'bold'; o.tickGap = 7.5; o.labSize = 7.6;
  return o;
}
function ncStm(nc, stm) {
  return [{ name: 'stm', values: stm, color: '#e0201f' }, { name: 'nc', values: nc, color: '#111' }];
}
drawDecay(panelD, dStyle({ axisX: 244.3, axisEnd: 311.7, x0: 259, x2: 305, y0: 434, y15: 358, yTop: 358, lab1: 217.7, lab2: 225, labY: 396 }), ncStm(dEsrrbNC, dEsrrbSTM));
drawDecay(panelD, dStyle({ axisX: 357, axisEnd: 424.3, x0: 371.7, x2: 417.7, y0: 434.7, y15: 358.3, yTop: 358.3, lab1: 330, lab2: 337.3, labY: 396 }), ncStm(dPou5f1NC, dPou5f1STM));
drawDecay(panelD, dStyle({ axisX: 470, axisEnd: 546.7, x0: 484.7, x2: 531, y0: 434.7, y15: 358.3, yTop: 358.3, lab1: 443.3, lab2: 450.7, labY: 396 }), ncStm(dKlf2NC, dKlf2STM));
drawDecay(panelD, dStyle({ axisX: 582.7, axisEnd: 660, x0: 598, x2: 644, y0: 434.3, y15: 363, yTop: 357.7, lab1: 556.7, lab2: 565, labY: 396 }), ncStm(dDppa5aNC, dDppa5aSTM));
drawDecay(panelD, dStyle({ axisX: 242.7, axisEnd: 320, x0: 258, x2: 304.3, y0: 555.3, y15: 483.3, yTop: 478.3, lab1: 216, lab2: 224, labY: 516.7 }), ncStm(dTfcp2l1NC, dTfcp2l1STM));
drawDecay(panelD, dStyle({ axisX: 355.7, axisEnd: 432.7, x0: 371.3, x2: 417.3, y0: 555.3, y15: 483.3, yTop: 478.3, lab1: 329.3, lab2: 337.3, labY: 516.7 }), ncStm(dRps27NC, dRps27STM));
drawDecay(panelD, dStyle({ axisX: 467.7, axisEnd: 545, x0: 483, x2: 529, y0: 555.3, y15: 483.3, yTop: 478.3, lab1: 441.7, lab2: 449.3, labY: 516.7 }), ncStm(dLdhaNC, dLdhaSTM));
drawDecay(panelD, dStyle({ axisX: 582.7, axisEnd: 660, x0: 598, x2: 644, y0: 555, y15: 478.3, yTop: 478.3, lab1: 556.7, lab2: 565, labY: 516.7 }), ncStm(dGapdhNC, dGapdhSTM));

drawScatter(document.getElementById('panelE'));

const panelF = document.getElementById('panelF');
const goldTrack = '#d4a21b', purpleTrack = '#8e1a8e', tealTrack = '#2ea27e';
const rows1 = [622.7, 635.3, 648.7, 662.3];
const rows2 = [705.3, 718, 731.7, 745.7];
drawLocus(panelF, [449, 490], 609, 671, rows1, [
  { row: 2, loci: esrrbNcLoci, signal: esrrbNcSignal, color: goldTrack },
  { row: 3, loci: esrrbStmLoci, signal: esrrbStmSignal, color: purpleTrack }],
  { from: .2, to: .8, exons: [[.24, .29, 4.5], [.29, .78, 2.8]] }, 668.3);
drawLocus(panelF, [495, 541.7], 609, 671, rows1, [
  { row: 2, loci: sox2NcLoci, signal: sox2NcSignal, color: goldTrack, width: 3.800 },
  { row: 3, loci: sox2StmLoci, signal: sox2StmSignal, color: purpleTrack, width: 3.800 }],
  { from: .07, to: 1, exons: [[.07, 1, 2.6], [.29, .79, 5]] }, 668.3);
drawLocus(panelF, [547.3, 597.7], 609, 671, rows1, [
  { row: 2, loci: klf2NcLoci, signal: klf2NcSignal, color: goldTrack },
  { row: 3, loci: klf2StmLoci, signal: klf2StmSignal, color: purpleTrack }],
  { from: .06, to: .84, exons: [[.08, .1, 4.5], [.19, .43, 5], [.58, .83, 3]] }, 668.3);
drawLocus(panelF, [602.7, 648.3], 609, 671, rows1, [
  { row: 2, loci: nr5a2NcLoci, signal: nr5a2NcSignal, color: goldTrack },
  { row: 3, loci: nr5a2StmLoci, signal: nr5a2StmSignal, color: purpleTrack }],
  { from: .05, to: .97, exons: [[.33, .45, 5], [.55, .56, 1.6], [.7, .71, 1.6], [.9, .92, 4.5]] }, 668.3);
drawLocus(panelF, [449, 502.3], 693, 754.3, rows2, [
  { row: 0, loci: pecam1InputLoci, signal: pecam1InputSignal, color: tealTrack, width: .8 },
  { row: 2, loci: pecam1NcLoci, signal: pecam1NcSignal, color: goldTrack, width: 1 },
  { row: 3, loci: pecam1StmLoci, signal: pecam1StmSignal, color: purpleTrack, width: .8 }],
  { from: .03, to: .98, exons: [[.03, .04, 4], [.1, .11, 4], [.16, .17, 4], [.2, .21, 4], [.25, .27, 4], [.38, .39, 4], [.5, .51, 4], [.62, .63, 4], [.78, .79, 4], [.95, .97, 4]] }, 751.7);
drawLocus(panelF, [509.3, 551.7], 693, 754.3, rows2, [
  { row: 2, loci: lifrNcLoci, signal: lifrNcSignal, color: goldTrack, width: 1.4 },
  { row: 3, loci: lifrStmLoci, signal: lifrStmSignal, color: purpleTrack, width: 1.4 }],
  { from: .05, to: .8, exons: [[.05, .07, 3.5], [.15, .18, 3.5], [.29, .32, 4.5], [.32, .79, 3]] }, 751.7);
drawLocus(panelF, [559, 608.3], 693, 754.3, rows2, [
  { row: 3, loci: fgf4StmLoci, signal: fgf4StmSignal, color: purpleTrack, width: 2.200 }],
  { from: .15, to: .65, exons: [[.15, .22, 4], [.31, .64, 3]] }, 751.7);
drawLocus(panelF, [614, 650.7], 693, 754.3, rows2, [
  { row: 0, loci: gbx2InputNcLoci, signal: gbx2InputNcSignal, color: tealTrack, width: 2 },
  { row: 1, loci: gbx2InputStmLoci, signal: gbx2InputStmSignal, color: tealTrack, width: 2 },
  { row: 2, loci: gbx2NcLoci, signal: gbx2NcSignal, color: goldTrack, width: 3.500 }],
  { from: .16, to: .98, exons: [[.35, .62, 5], [.62, .87, 3]] }, 751.7);

const panelG = document.getElementById('panelG');
function gStyle(o) {
  o.tickSize = 6.2; o.tickWeight = 'normal'; o.tickGap = 8.3; o.labSize = 7.9; o.labY = 836;
  return o;
}
function luciYth(luci, luciErr, yth, ythErr) {
  return [
    { name: 'sgythdf2', values: yth, errors: ythErr, color: '#e0201f' },
    { name: 'sgluci', values: luci, errors: luciErr, color: '#111' }
  ];
}
drawDecay(panelG, gStyle({ axisX: 57.3, axisEnd: 138.3, x0: 72.7, x2: 121.7, y0: 877, y15: 796, yTop: 796, lab1: 28.3, lab2: 37.3 }), luciYth(gEsrrbLuci, gEsrrbLuciErr, gEsrrbYthdf2, gEsrrbYthdf2Err));
drawDecay(panelG, gStyle({ axisX: 177.3, axisEnd: 258.3, x0: 193, x2: 241.7, y0: 877.7, y15: 796.7, yTop: 796.7, lab1: 149, lab2: 157.7 }), luciYth(gPou5f1Luci, gPou5f1LuciErr, gPou5f1Ythdf2, gPou5f1Ythdf2Err));
drawDecay(panelG, gStyle({ axisX: 298.3, axisEnd: 380, x0: 313.7, x2: 362.7, y0: 877, y15: 796, yTop: 796, lab1: 270.7, lab2: 279.3 }), luciYth(gKlf2Luci, gKlf2LuciErr, gKlf2Ythdf2, gKlf2Ythdf2Err));
drawDecay(panelG, gStyle({ axisX: 421, axisEnd: 502.7, x0: 436.7, x2: 485.3, y0: 877.7, y15: 796.7, yTop: 796.7, lab1: 392.3, lab2: 401 }), luciYth(gDppa5aLuci, gDppa5aLuciErr, gDppa5aYthdf2, gDppa5aYthdf2Err));
drawDecay(panelG, gStyle({ axisX: 541, axisEnd: 622.3, x0: 556.7, x2: 605, y0: 877.7, y15: 796.7, yTop: 796.7, lab1: 512.7, lab2: 521 }), luciYth(gTfcp2l1Luci, gTfcp2l1LuciErr, gTfcp2l1Ythdf2, gTfcp2l1Ythdf2Err));
</script>
</body>
</html>
